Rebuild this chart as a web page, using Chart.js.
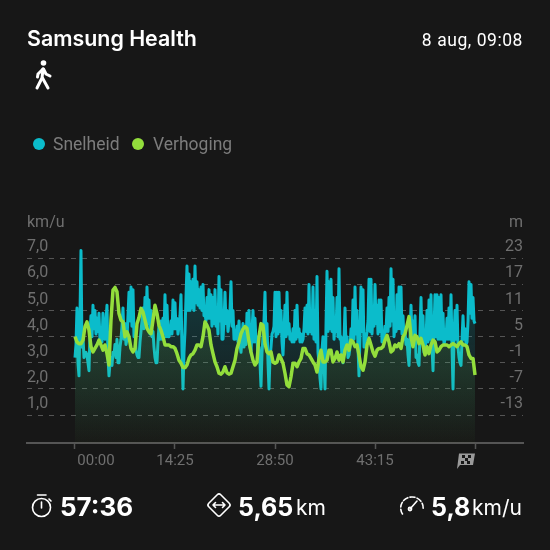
<!DOCTYPE html>
<html>
<head>
<meta charset="utf-8">
<script src="https://cdn.jsdelivr.net/npm/chart.js@4"></script>
<style>
  html, body { margin: 0; background: #171717; }
  #page { position: relative; width: 550px; height: 550px; overflow: hidden; font-family: Roboto, sans-serif; }
  #page canvas { position: absolute; left: 0; top: 0; }
  .txt { position: absolute; white-space: nowrap; color: #fff; line-height: 1; }
  .ico { position: absolute; }
  .dot { position: absolute; width: 12px; height: 12px; border-radius: 50%; }
  .big { font-family: Inter, sans-serif; font-weight: 700; font-size: 25px; }
  .unit { font-family: Inter, sans-serif; font-size: 21px; }
</style>
</head>
<body>
<div id="page">
  <canvas id="chart" width="550" height="550"></canvas>

  <div class="txt" style="left:27px;top:25px;font:600 21.4px Inter,sans-serif;">Samsung Health</div>
  <div class="txt" style="right:27px;top:32px;font-size:17.5px;letter-spacing:0.55px">8 aug, 09:08</div>
  <svg class="ico" style="left:33px;top:59px" width="20" height="32" viewBox="0 0 20 32" fill="none" stroke="#fff" stroke-width="3" stroke-linecap="round" stroke-linejoin="round">
    <circle cx="10.5" cy="4" r="2.8" fill="#fff" stroke="none"/>
    <path d="M10 10 L9 19 L4 29"/><path d="M9.5 19 L15 29"/><path d="M10 10 L5 15 L4.5 18"/><path d="M10.5 10 L13 15 L17 17"/>
  </svg>

  <div class="dot" style="left:33px;top:138px;background:#0bbccb"></div>
  <div class="txt" style="left:53px;top:136px;font-size:17.5px;color:#7c7c7c">Snelheid</div>
  <div class="dot" style="left:132px;top:138px;background:#93de3c"></div>
  <div class="txt" style="left:153px;top:136px;font-size:17.5px;color:#7c7c7c">Verhoging</div>

  <svg class="ico" style="left:456px;top:452px" width="20" height="18" viewBox="0 0 20 18">
    <path d="M3 1.5 H19 L17 13 H4 L1 17 Z" fill="#9a9a9a"/>
    <path d="M6 3 h3 v3 h-3z M12 3 h3 v3 h-3z M9 6 h3 v3 h-3z M5 9 h3 v3 h-3z M11 9 h3 v3 h-3z" fill="#171717"/>
  </svg>

  <svg class="ico" style="left:30px;top:493px" width="24" height="26" viewBox="0 0 24 26" fill="none" stroke="#fff" stroke-width="1.6" stroke-linecap="round">
    <path d="M7.5 2 H16"/><circle cx="11.5" cy="14.5" r="9"/><path d="M11.5 9 V15"/><path d="M19 6 L21 8"/>
  </svg>
  <div class="txt big" style="left:60px;top:494px;font-size:26px">57:36</div>

  <svg class="ico" style="left:205px;top:491px" width="28" height="28" viewBox="0 0 28 28" fill="none" stroke="#fff" stroke-width="1.6" stroke-linecap="round" stroke-linejoin="round">
    <rect x="5.5" y="5.5" width="17" height="17" rx="2.5" transform="rotate(45 14 14)"/>
    <path d="M8 14 H20 M10.5 11.5 L8 14 L10.5 16.5 M17.5 11.5 L20 14 L17.5 16.5"/>
  </svg>
  <div class="txt big" style="left:238px;top:495px">5,65</div>
  <div class="txt unit" style="left:296px;top:497px">km</div>

  <svg class="ico" style="left:399px;top:494px" width="26" height="24" viewBox="0 0 26 24" fill="none" stroke="#fff" stroke-width="1.6" stroke-linecap="round">
    <path d="M3.5 20 A11 11 0 0 1 13 3 A11 11 0 0 1 24 16" stroke-dasharray="5 2.2"/><path d="M11 15 L18 7"/><circle cx="11" cy="15" r="1.6"/>
  </svg>
  <div class="txt big" style="left:431px;top:495px">5,8</div>
  <div class="txt unit" style="left:472px;top:497px">km/u</div>
</div>

<script>
const speedLabel = 'Snelheid';
const elevationLabel = 'Verhoging';
const durationAxisSeconds = 3460;

// read per screen column of the app picture: top and bottom of the band in turn
const speed = [
  3.2, 3.7, 5.1, 3.0, 2.5, 4.8, 7.3, 3.6, 4.0, 3.2, 3.3, 3.4, 3.3, 3.0, 2.7, 4.1,
  4.8, 4.0, 5.2, 4.3, 5.0, 4.1, 4.7, 4.2, 4.9, 3.9, 4.3, 3.8, 4.9, 4.0, 3.9, 4.6, 5.2, 3.2, 2.5, 3.0, 3.2, 2.9, 3.4, 3.3,
  3.7, 3.2, 3.9, 3.0, 3.0, 3.6, 3.9, 4.4, 5.1, 3.9, 4.5, 3.7, 3.9, 4.8, 5.7, 4.6, 5.9, 4.4, 5.8, 4.0, 4.3, 3.5, 3.3, 3.2, 3.2, 3.8, 4.2, 4.6, 5.1, 4.3, 5.5, 4.4, 5.9, 4.5, 5.4, 4.1, 5.0, 4.0, 4.2, 3.6,
  3.2, 3.0, 3.0, 3.8, 4.4, 3.9, 4.6, 3.9, 4.7, 4.1, 5.6, 4.0, 5.2, 4.0, 4.0, 4.2, 4.6, 4.1, 5.4, 4.3, 5.3, 4.3, 4.7, 4.1, 4.4, 4.8, 5.6, 3.5, 2.0, 3.4, 4.2, 5.5, 6.7, 5.0, 6.4, 5.0, 6.1, 5.1, 6.2, 5.0,
  6.7, 5.3, 6.1, 5.2, 5.8, 5.1, 5.9, 5.0, 6.0, 4.8, 4.9, 4.6, 5.5, 4.7, 5.8, 4.7,
  5.6, 4.4, 5.5, 4.5, 5.8, 4.4, 4.8, 4.1, 6.3, 4.6, 5.8, 3.9, 3.9, 4.6, 5.7, 4.5, 5.0, 4.2, 4.6, 5.0,
  6.1, 4.4, 5.0, 3.9, 3.9, 4.0, 4.4, 3.8, 4.6, 3.7, 3.4, 3.9, 4.5, 3.6, 3.9, 3.7, 4.9, 3.9, 5.0, 3.6,
  3.4, 4.2, 5.0, 3.8, 4.7, 3.8, 4.0, 3.2, 3.6, 3.0, 2.1, 3.4, 4.0, 4.6, 5.7, 3.8, 4.5, 3.0, 2.0, 3.2,
  3.6, 4.1, 4.2, 4.4, 5.7, 4.0, 5.7, 4.1, 5.7, 4.2, 5.0, 3.8, 3.3, 4.2, 5.2, 4.0, 5.7, 4.1, 4.5, 3.9,
  4.1, 3.8, 4.3, 3.8, 5.0, 3.9, 5.2, 4.0, 4.3, 3.8, 4.1, 3.8, 3.9, 4.3, 5.1, 4.2, 5.2, 4.1, 6.0, 4.2,
  4.8, 4.1, 5.9, 3.9, 5.0, 3.8, 6.3, 3.4, 3.0, 2.4, 2.0, 3.5, 4.0, 3.0, 2.0, 4.4, 6.5, 4.2, 6.1, 4.3,
  6.2, 4.2, 5.5, 3.9, 4.4, 4.2, 5.5, 4.0, 6.6, 3.9, 4.0, 3.2, 3.0, 3.9, 5.1, 3.6, 4.0, 3.2, 3.3, 3.6,
  4.3, 3.8, 5.4, 3.9, 5.9, 4.1, 5.0, 3.6, 2.5, 4.1, 5.9, 4.2, 5.8, 3.6, 3.8, 3.9, 4.2, 4.6, 6.2, 4.2,
  6.2, 4.1, 4.9, 4.4, 6.0, 4.5, 5.2, 4.1, 5.4, 4.2, 5.4, 3.8, 3.9, 3.9, 4.4, 4.2, 5.1, 4.2, 5.5, 4.4,
  6.6, 4.6, 6.2, 4.0, 4.4, 4.2, 5.6, 4.3, 5.9, 4.3, 5.9, 4.1, 4.8, 3.9, 4.2, 3.7, 3.9, 3.3, 2.9, 3.9,
  5.2, 3.9, 4.6, 3.9, 4.8, 3.2, 3.3, 3.0, 2.9, 4.2, 5.5, 3.8, 4.8, 3.4, 3.4, 3.9, 5.0, 3.8, 5.4, 3.9,
  5.6, 3.6, 2.7, 4.3, 5.6, 4.0, 5.6, 3.9, 5.5, 3.9, 5.6, 3.9, 4.9, 3.7, 3.9, 3.9, 4.7, 3.9, 5.1, 3.9,
  5.6, 3.6, 2.0, 4.0, 5.0, 3.9, 5.2, 3.6, 3.2, 3.0, 2.9, 3.9, 4.8, 3.9, 4.3, 3.7, 3.8, 4.6, 6.1, 4.9,
  6.0, 4.7, 5.5, 4.6, 4.5
];

const elevation = [
  5.0, 3.8, 3.4, 3.4, 4.2, 7.3, 8.4, 6.5, 2.7, 1.5, 2.3, 3.1, 4.2, 3.1, 1.9, 3.1, 1.1, -1.5, 8.8, 15.7,
  16.3, 15.3, 10.3, 8.8, 8.4, 5.0, 6.1, 5.0, 2.3, 1.5, 2.3, 8.0, 9.4, 11.5, 10.7, 8.8, 6.9, 6.1, 5.7, 8.8,
  12.2, 10.3, 7.6, 6.5, 5.0, 3.1, 3.1, 3.1, 2.7, 2.7, 2.3, 1.1, -0.4, -1.1, -2.1, -2.1, -1.5, 0, 0.8, 1.1,
  1.9, 3.1, 3.1, 2.7, 5.0, 8.4, 7.6, 6.5,
  3.1, 1.1, -0.8, -1.9, -3.4, -3.6, -3.1, -1.9, -3.3, -3.6, -3.4, -1.9, -0.4, 2.3, 3.8, 5.7, 6.7, 7.3, 6.9, 3.8,
  1.5, -0.4, -1.5, -0.8, 5.0, 8.0, 7.6, 3.4, 1.5, 1.1, 1.5, -0.8, -1.1, -0.8, 0.8, 0, -1.1, -3.4, -6.1, -6.5,
  -4.2, -1.1, -1.1, -1.9, -0.8, 0, 2.3, 2.3, 1.1, 0.8, 0, -0.8, -1.5, -3.1, 0, 1.9, -0.8, -0.8, -0.4, 1.9,
  1.9, -0.8, 0, 1.5, -0.4, 0.8, -0.8, 1.9, 3.1, 1.9,
  4.2, 3.8, 2.7, 3.1, 0.8, -1.9, -2.7, -0.8, 3.1, 4.6, 3.1, 1.5, 0.5, 1.9, 2.3, 2.3, 2.7, 4.2, 5.3, 3.8,
  1.5, 1.9, 3.1, 2.7, 3.4, 2.3, 5.0, 5.7, 7.6, 9.6, 5.0, 2.7, 5.3, 5.0, 3.4, 4.6, 3.1, 0.8, 2.7, 1.1,
  3.1, 4.2, 3.8, 1.5, 1.9, 2.7, 3.1, 3.1, 3.1, 2.7, 3.1, 3.4, 3.1, 2.7, 3.4, 3.8, 3.1, 3.1, 2.7, 0.8,
  0, 0, -3.8
];

// 182 only carries the 00:00 text, which sits right of its tick in the app
const xTickSeconds = [0, 182, 865, 1730, 2595, 3460];
const xTickLabels = ['', '00:00', '14:25', '28:50', '43:15', ''];
const speedTicks = [1, 2, 3, 4, 5, 6, 7, 7.93];
const speedTickLabels = ['1,0', '2,0', '3,0', '4,0', '5,0', '6,0', '7,0', 'km/u'];
const elevationTicks = [-13, -7, -1, 5, 11, 17, 23, 28.6];
const elevationTickLabels = ['-13', '-7', '-1', '5', '11', '17', '23', 'm'];

const toPoints = values => values.map((y, i) => ({ x: i * durationAxisSeconds / (values.length - 1), y }));

const fillGradient = (stops) => (ctx) => {
  const area = ctx.chart.chartArea;
  if (!area) return 'transparent';
  const g = ctx.chart.ctx.createLinearGradient(0, 280, 0, area.bottom);
  g.addColorStop(0, stops[0]);
  g.addColorStop(1, stops[1]);
  return g;
};

new Chart(document.getElementById('chart'), {
  type: 'line',
  data: {
    datasets: [
      {
        label: speedLabel,
        data: toPoints(speed),
        yAxisID: 'y',
        borderColor: '#0bbccb',
        borderWidth: 3,
        borderJoinStyle: 'round',
        backgroundColor: fillGradient(['rgba(11,188,203,0.22)', 'rgba(11,188,203,0)']),
        fill: 'start',
        pointRadius: 0,
        tension: 0,
        order: 2
      },
      {
        label: elevationLabel,
        data: toPoints(elevation),
        yAxisID: 'y1',
        borderColor: '#93de3c',
        borderWidth: 3.5,
        borderJoinStyle: 'round',
        backgroundColor: fillGradient(['rgba(147,222,60,0.15)', 'rgba(147,222,60,0.02)']),
        fill: 'start',
        pointRadius: 0,
        tension: 0,
        order: 1
      }
    ]
  },
  options: {
    responsive: false,
    animation: false,
    layout: { padding: { left: 27, right: 27, top: 206, bottom: 0 } },
    plugins: { legend: { display: false }, tooltip: { enabled: false } },
    scales: {
      x: {
        type: 'linear',
        min: -415,
        max: 3875,
        afterFit: s => { s.height = 107; },
        afterBuildTicks: s => { s.ticks = xTickSeconds.map(value => ({ value })); },
        border: { color: '#555', width: 2 },
        grid: {
          drawOnChartArea: false,
          tickLength: 6,
          tickWidth: 1.5,
          tickColor: c => (c.tick && c.tick.value === 182 ? 'transparent' : '#555')
        },
        ticks: {
          color: '#6f6f6f',
          font: { family: 'Roboto', size: 15 },
          padding: 3,
          autoSkip: false,
          maxRotation: 0,
          callback: (v, i) => xTickLabels[i]
        }
      },
      y: {
        position: 'left',
        min: -0.069,
        max: 9,
        afterFit: s => { s.width = 0; },
        afterBuildTicks: s => { s.ticks = speedTicks.map(value => ({ value })); },
        border: { display: false, dash: [5, 6] },
        grid: {
          drawTicks: false,
          lineWidth: 1,
          color: c => (c.tick && c.tick.value > 7 ? 'transparent' : '#555')
        },
        ticks: {
          mirror: true,
          padding: 0,
          labelOffset: -11,
          color: '#6f6f6f',
          font: { family: 'Roboto', size: 16 },
          callback: (v, i) => speedTickLabels[i]
        }
      },
      y1: {
        position: 'right',
        min: -19.41,
        max: 35,
        afterFit: s => { s.width = 0; },
        afterBuildTicks: s => { s.ticks = elevationTicks.map(value => ({ value })); },
        border: { display: false },
        grid: { display: false, drawTicks: false },
        ticks: {
          mirror: true,
          padding: 0,
          labelOffset: -11,
          color: '#6f6f6f',
          font: { family: 'Roboto', size: 16 },
          callback: (v, i) => elevationTickLabels[i]
        }
      }
    }
  }
});
</script>
</body>
</html>
